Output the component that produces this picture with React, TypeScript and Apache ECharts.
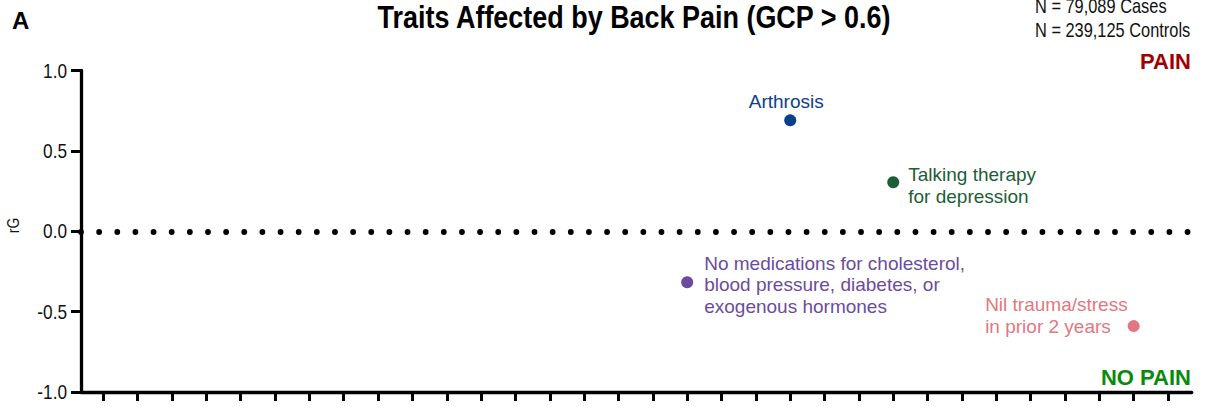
import React, { useEffect, useRef } from "react";
import * as echarts from "echarts";

// ---------- data ----------
const titleText = "Traits Affected by Back Pain (GCP > 0.6)";
const panelLetter = "A";
const sampleLines = ["N = 79,089 Cases", "N = 239,125 Controls"];
const upperTag = "PAIN";
const lowerTag = "NO PAIN";
const yAxisName = "rG";

const traitNames = [
  "Arthrosis",
  "Talking therapy\nfor depression",
  "No medications for cholesterol,\nblood pressure, diabetes, or\nexogenous hormones",
  "Nil trauma/stress\nin prior 2 years",
];
const traitX = [21, 24, 18, 31];
const traitRG = [0.69, 0.305, -0.317, -0.59];

const xTicks = [
  1, 2, 3, 4, 5, 6, 7, 8, 9, 10, 11, 12, 13, 14, 15, 16,
  17, 18, 19, 20, 21, 22, 23, 24, 25, 26, 27, 28, 29, 30, 31, 32,
];
const yTicks = [-1, -0.5, 0, 0.5, 1];
const X_MIN = 0.35;
const X_MAX = 32.69;

// ---------- styles ----------
const ARIAL = "'Liberation Sans', Arial, Helvetica, sans-serif";
const NARROW_SCALE = 0.82;
const traitColors = ["#0b3f8c", "#1b5e38", "#6a4c9e", "#e3777f"];
const labelStyles: any[] = [
  { position: "top", distance: 3, offset: [-4, 0] },
  { position: "right", distance: 9, align: "left", lineHeight: 22.5, offset: [0, 3.5] },
  { position: "right", distance: 11, align: "left", lineHeight: 21.5, offset: [0, 2.5] },
  { position: "left", distance: 0, align: "right", lineHeight: 22, offset: [0, -10.5], rich: true },
];

export default function App() {
  const ref = useRef<HTMLDivElement>(null);

  useEffect(() => {
    if (!ref.current) return;
    const chart = echarts.init(ref.current, null, { renderer: "svg" });

    const data = traitX.map((x, i) => {
      const ls = labelStyles[i];
      const label: any = {
        show: true,
        color: traitColors[i],
        fontSize: 19,
        fontFamily: ARIAL,
        position: ls.position,
        distance: ls.distance,
        offset: ls.offset,
      };
      if (ls.align) label.align = ls.align;
      if (ls.lineHeight) label.lineHeight = ls.lineHeight;
      if (ls.rich) {
        label.formatter = traitNames[i]
          .split("\n")
          .map((t) => `{l|${t}}`)
          .join("\n");
        label.rich = {
          l: {
            align: "left",
            color: traitColors[i],
            fontSize: 19,
            fontFamily: ARIAL,
            lineHeight: ls.lineHeight,
          },
        };
      } else {
        label.formatter = traitNames[i];
      }
      return {
        value: [x, traitRG[i]],
        name: traitNames[i],
        itemStyle: { color: traitColors[i], opacity: 1 },
        label,
      };
    });

    const narrowText = (id: string, text: string, x: number, y: number, size: number, align: string, extra: any = {}) => ({
      id,
      type: "text",
      x,
      y,
      scaleX: NARROW_SCALE,
      ...extra,
      style: {
        text,
        font: `${extra.bold ? "bold " : ""}${size}px ${ARIAL}`,
        fill: extra.fill || "#111",
        textAlign: align,
        textVerticalAlign: "middle",
      },
    });

    const option: any = {
      animation: false,
      backgroundColor: "#ffffff",
      grid: { left: 81, right: 16.3, top: 70.5, bottom: 19 },
      xAxis: {
        type: "value",
        min: X_MIN,
        max: X_MAX,
        splitLine: { show: false },
        axisLine: { show: true, onZero: false, lineStyle: { color: "#000", width: 3.3 } },
        axisTick: {
          show: true,
          inside: false,
          length: 9,
          customValues: xTicks,
          lineStyle: { color: "#000", width: 3 },
        },
        axisLabel: { show: false },
      },
      yAxis: {
        type: "value",
        min: -1,
        max: 1,
        interval: 0.5,
        splitLine: { show: false },
        axisLine: { show: true, onZero: false, lineStyle: { color: "#000", width: 3.3 } },
        axisTick: {
          show: true,
          length: 10,
          customValues: yTicks,
          lineStyle: { color: "#000", width: 3 },
        },
        axisLabel: { show: false },
      },
      series: [
        {
          type: "scatter",
          symbol: "circle",
          symbolSize: 12,
          data,
          emphasis: { disabled: true },
          markLine: {
            silent: true,
            symbol: ["none", "none"],
            label: { show: false },
            emphasis: { disabled: true },
            lineStyle: { color: "#000", width: 5.8, type: [0.01, 18.13], cap: "round", opacity: 1 },
            data: [{ yAxis: 0 }],
          },
          z: 5,
        },
      ],
      graphic: [
        {
          id: "letter",
          type: "text",
          x: 12,
          y: 20,
          style: {
            text: panelLetter,
            font: `bold 24px ${ARIAL}`,
            fill: "#000",
            textAlign: "left",
            textVerticalAlign: "middle",
          },
        },
        {
          id: "title",
          type: "text",
          x: 634,
          y: 17,
          scaleX: 0.842,
          style: {
            text: titleText,
            font: `bold 32px ${ARIAL}`,
            fill: "#000",
            textAlign: "center",
            textVerticalAlign: "middle",
          },
        },
        narrowText("n1", sampleLines[0], 1035, 5.5, 20, "left"),
        narrowText("n2", sampleLines[1], 1035, 30.3, 20, "left"),
        {
          id: "pain",
          type: "text",
          x: 1191,
          y: 61.3,
          style: {
            text: upperTag,
            font: `bold 22px ${ARIAL}`,
            fill: "#a20000",
            textAlign: "right",
            textVerticalAlign: "middle",
          },
        },
        {
          id: "nopain",
          type: "text",
          x: 1191,
          y: 377.3,
          style: {
            text: lowerTag,
            font: `bold 22px ${ARIAL}`,
            fill: "#0a8a0a",
            textAlign: "right",
            textVerticalAlign: "middle",
          },
        },
        narrowText("yname", yAxisName, 12.7, 225.5, 17, "center", { rotation: Math.PI / 2 }),
      ],
    };

    chart.setOption(option);

    // y tick labels in a narrow face, placed through the axis scale
    const yLabelEls = yTicks.map((v, i) => {
      const py = chart.convertToPixel({ yAxisIndex: 0 }, v) as number;
      return narrowText(`ylab${i}`, v.toFixed(1), 67, py, 21, "right");
    });
    chart.setOption({ graphic: yLabelEls });

    return () => chart.dispose();
  }, []);

  return (
    <div
      ref={ref}
      style={{ position: "absolute", left: 0, top: 0, width: 1208, height: 411 }}
    />
  );
}
